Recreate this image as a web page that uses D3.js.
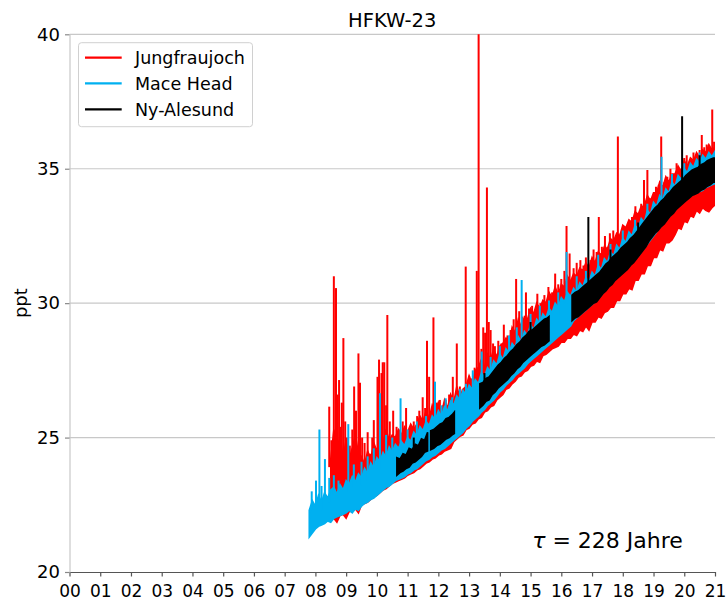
<!DOCTYPE html>
<html><head><meta charset="utf-8">
<script src="https://cdn.jsdelivr.net/npm/d3@7"></script>
<style>
html,body{margin:0;padding:0;background:#fff;}
text{font-family:"DejaVu Sans",sans-serif;fill:#000;}
</style></head>
<body><div id="chart"></div>
<script>
// ---------------- DATA ----------------
const title = "HFKW-23";
const yLabel = "ppt";
const noteSymbol = "τ";
const noteText = " = 228 Jahre";
const seriesNames = ["Jungfraujoch", "Mace Head", "Ny-Alesund"];
const seriesColors = ["#ff0000", "#00b0f0", "#000000"];
const xTickValues = [0,1,2,3,4,5,6,7,8,9,10,11,12,13,14,15,16,17,18,19,20,21];
const xTickLabels = ["00","01","02","03","04","05","06","07","08","09","10","11","12","13","14","15","16","17","18","19","20","21"];
const yTickValues = [20,25,30,35,40];

// Jungfraujoch (years since 2000; low / high envelope of the dense record) + pollution spikes
const jfjT = [8.5,8.6,8.7,8.8,8.9,9.0,9.1,9.2,9.3,9.4,9.5,9.6,9.7,9.8,9.9,10.0,10.1,10.2,10.3,10.4,10.5,10.6,10.7,10.8,10.9,11.0,11.1,11.2,11.3,11.4,11.5,11.6,11.7,11.8,11.9,12.0,12.1,12.2,12.3,12.4,12.5,12.6,12.7,12.8,12.9,13.0,13.1,13.2,13.3,13.4,13.5,13.6,13.7,13.8,13.9,14.0,14.1,14.2,14.3,14.4,14.5,14.6,14.7,14.8,14.9,15.0,15.1,15.2,15.3,15.4,15.5,15.6,15.7,15.8,15.9,16.0,16.1,16.2,16.3,16.4,16.5,16.6,16.7,16.8,16.9,17.0,17.1,17.2,17.3,17.4,17.5,17.6,17.7,17.8,17.9,18.0,18.1,18.2,18.3,18.4,18.5,18.6,18.7,18.8,18.9,19.0,19.1,19.2,19.3,19.4,19.5,19.6,19.7,19.8,19.9,20.0,20.1,20.2,20.3,20.4,20.5,20.6,20.7,20.8,20.9,21.0];
const jfjLo = [21.95,22.0,21.85,22.1,22.15,22.0,22.25,22.25,22.35,22.2,22.5,22.55,22.6,22.7,22.8,22.85,22.95,23.05,23.1,23.2,23.3,23.35,23.4,23.45,23.5,23.6,23.65,23.7,23.8,23.85,23.95,24.05,24.1,24.2,24.25,24.35,24.4,24.5,24.55,24.6,24.85,24.95,25.05,25.1,25.3,25.35,25.5,25.55,25.7,25.75,25.95,26.0,26.15,26.2,26.4,26.5,26.6,26.8,26.85,27.0,27.1,27.25,27.3,27.45,27.5,27.65,27.7,27.85,27.8,28.05,28.1,28.2,28.3,28.35,28.4,28.55,28.55,28.7,28.7,28.85,28.8,29.0,28.95,29.15,29.0,29.3,29.3,29.5,29.45,29.65,29.7,29.85,29.85,30.1,30.1,30.35,30.35,30.55,30.5,30.85,30.85,31.1,31.1,31.4,31.4,31.7,31.7,32.0,31.95,32.25,32.25,32.35,32.55,32.8,32.75,33.05,33.0,33.25,33.2,33.45,33.35,33.55,33.45,33.4,33.55,33.65];
const jfjHi = [24.2,25.3,24.6,25.0,24.3,24.9,24.2,24.6,25.1,24.4,24.3,24.0,24.5,24.2,24.8,24.5,25.0,24.8,25.3,24.9,25.1,25.0,25.3,25.1,25.4,25.2,25.5,25.3,25.5,25.8,25.6,26.0,25.7,26.2,25.9,26.3,25.9,26.4,26.1,26.6,26.3,26.9,26.5,26.8,26.9,27.3,27.0,27.5,27.6,27.9,27.6,28.1,27.9,28.3,28.0,28.4,28.5,28.7,28.5,29.1,28.9,29.4,29.1,29.5,29.4,29.8,29.6,30.0,29.8,30.1,30.0,30.4,30.2,30.6,30.3,30.7,30.6,31.0,30.8,31.1,31.0,31.3,31.2,31.5,31.3,31.7,31.5,31.9,31.8,32.1,32.0,32.4,32.3,32.6,32.5,32.9,32.8,33.1,33.0,33.4,33.3,33.6,33.6,34.0,33.8,34.1,34.1,34.5,34.3,34.7,34.5,34.8,34.8,35.1,34.9,35.3,35.1,35.4,35.3,35.6,35.4,35.7,35.6,35.9,35.7,35.8];
const jfjSpikeT = [8.45,8.52,8.6,8.67,8.72,8.77,8.82,8.86,8.91,8.97,9.02,9.12,9.2,9.26,9.32,9.4,9.45,9.52,9.6,9.7,9.78,9.85,9.9,10.02,10.07,10.15,10.19,10.24,10.3,10.34,10.42,10.53,10.64,10.72,10.84,10.95,11.1,11.2,11.31,11.38,11.49,11.57,11.63,11.7,11.84,11.95,12.05,12.15,12.24,12.35,12.47,12.6,12.7,12.79,12.89,13.0,13.08,13.18,13.25,13.31,13.4,13.46,13.52,13.58,13.64,13.7,13.78,13.84,13.95,14.05,14.13,14.25,14.35,14.45,14.53,14.63,14.72,14.85,14.95,15.05,15.22,15.32,15.45,15.58,15.7,15.8,15.9,16.0,16.1,16.17,16.27,16.4,16.5,16.62,16.72,16.8,16.95,17.05,17.15,17.22,17.32,17.42,17.5,17.58,17.69,17.77,17.84,17.93,18.01,18.1,18.2,18.3,18.41,18.5,18.6,18.69,18.8,18.9,19.0,19.08,19.17,19.25,19.35,19.45,19.55,19.65,19.75,19.85,20.0,20.08,20.2,20.3,20.4,20.5,20.57,20.65,20.73,20.82,20.91,20.97];
const jfjSpikeV = [26.15,24.9,31.0,30.56,26.6,27.14,25.4,26.3,28.7,25.6,25.0,24.7,25.3,26.9,26.0,28.13,27.04,25.0,24.8,25.2,24.4,25.0,25.65,27.26,27.9,27.4,27.8,27.8,26.2,29.56,25.6,26.0,25.4,25.3,25.6,26.1,25.4,25.6,25.8,26.0,26.5,26.1,28.6,27.26,29.47,26.3,26.4,26.2,26.4,26.6,27.26,28.5,26.9,26.8,31.36,27.3,27.2,27.6,31.2,40.0,28.3,29.1,28.9,34.3,29.3,29.0,28.5,28.4,28.6,28.5,29.2,28.8,29.0,29.4,30.9,29.7,29.5,30.4,29.8,29.9,30.35,30.0,30.3,30.6,30.4,31.1,30.7,30.9,31.2,32.87,31.85,31.3,31.5,31.6,31.4,31.7,31.6,32.0,31.9,33.2,32.1,32.5,32.1,32.6,32.7,32.4,36.2,32.6,32.9,32.7,33.0,33.2,33.6,33.3,33.7,34.58,34.95,33.9,34.0,34.33,34.4,36.2,34.5,34.7,35.0,34.8,35.2,35.0,35.4,35.5,35.3,35.6,35.5,35.7,36.25,35.8,35.9,35.7,37.2,36.0];

// Mace Head
const mhdT = [7.8,7.9,8.0,8.1,8.2,8.3,8.4,8.5,8.6,8.7,8.8,8.9,9.0,9.1,9.2,9.3,9.4,9.5,9.6,9.7,9.8,9.9,10.0,10.1,10.2,10.3,10.4,10.5,10.6,10.7,10.8,10.9,11.0,11.1,11.2,11.3,11.4,11.5,11.6,11.7,11.8,11.9,12.0,12.1,12.2,12.3,12.4,12.5,12.6,12.7,12.8,12.9,13.0,13.1,13.2,13.3,13.4,13.5,13.6,13.7,13.8,13.9,14.0,14.1,14.2,14.3,14.4,14.5,14.6,14.7,14.8,14.9,15.0,15.1,15.2,15.3,15.4,15.5,15.6,15.7,15.8,15.9,16.0,16.1,16.2,16.3,16.4,16.5,16.6,16.7,16.8,16.9,17.0,17.1,17.2,17.3,17.4,17.5,17.6,17.7,17.8,17.9,18.0,18.1,18.2,18.3,18.4,18.5,18.6,18.7,18.8,18.9,19.0,19.1,19.2,19.3,19.4,19.5,19.6,19.7,19.8,19.9,20.0,20.1,20.2,20.3,20.4,20.5,20.6,20.7,20.8,20.9,21.0];
const mhdLo = [21.3,21.45,21.6,21.7,21.75,21.8,21.9,21.85,22.0,22.05,22.1,22.15,22.2,22.3,22.2,22.35,22.3,22.45,22.55,22.6,22.7,22.75,22.85,22.95,23.05,23.15,23.2,23.3,23.4,23.45,23.5,23.55,23.65,23.7,23.8,23.85,23.95,24.05,24.15,24.2,24.3,24.35,24.45,24.55,24.6,24.7,24.8,24.9,25.0,25.1,25.2,25.35,25.45,25.6,25.7,25.8,25.95,26.05,26.2,26.3,26.4,26.55,26.7,26.8,26.95,27.05,27.15,27.3,27.4,27.5,27.6,27.75,27.85,27.95,28.05,28.15,28.25,28.35,28.45,28.55,28.65,28.75,28.85,28.95,29.05,29.15,29.35,29.45,29.55,29.65,29.75,29.85,29.95,30.05,30.2,30.3,30.45,30.55,30.7,30.8,30.95,31.05,31.15,31.25,31.4,31.5,31.65,31.75,31.9,32.05,32.2,32.35,32.5,32.65,32.8,32.95,33.1,33.2,33.35,33.45,33.6,33.7,33.8,33.9,34.0,34.05,34.1,34.15,34.2,34.3,34.35,34.4,34.45];
const mhdHi = [22.3,22.65,22.45,22.85,22.6,22.95,22.75,23.05,23.15,22.9,23.25,23.05,23.4,23.25,23.55,23.35,23.65,23.5,23.85,23.65,24.05,23.85,24.25,24.1,24.45,24.25,24.65,24.45,24.75,24.6,24.85,24.7,25.0,24.85,25.2,25.05,25.4,25.25,25.6,25.45,25.8,25.65,26.0,25.8,26.15,26.0,26.35,26.2,26.55,26.4,26.75,26.6,26.95,26.8,27.15,27.0,27.4,27.25,27.6,27.45,27.85,27.7,28.1,27.9,28.3,28.15,28.5,28.35,28.75,28.55,28.95,28.8,29.2,29.0,29.4,29.25,29.6,29.45,29.8,29.65,30.0,29.85,30.2,30.05,30.4,30.25,30.55,30.4,30.75,30.6,30.95,30.8,31.15,31.0,31.4,31.25,31.65,31.5,31.9,31.75,32.15,32.0,32.4,32.25,32.65,32.5,32.9,32.75,33.15,33.0,33.45,33.3,33.75,33.6,34.0,33.85,34.25,34.1,34.5,34.35,34.75,34.6,35.0,34.85,35.2,35.05,35.35,35.2,35.5,35.35,35.6,35.45,35.65];
const mhdSpikeT = [7.88,8.02,8.13,8.2,8.31,8.45,8.6,8.75,9.07,9.25,9.5,9.7,9.9,10.1,10.3,10.5,10.77,11.0,11.3,11.6,11.89,12.1,12.24,12.45,12.7,12.9,13.12,13.41,13.7,14.0,14.3,14.55,14.71,15.0,15.3,15.6,15.9,16.17,16.5,16.8,17.2,17.6,18.0,18.4,18.8,19.26,19.6,20.0,20.5];
const mhdSpikeV = [23.0,23.4,25.3,23.2,24.2,23.5,23.6,23.4,25.5,24.0,24.1,24.3,24.6,26.65,25.1,25.0,26.46,25.3,25.6,25.8,27.08,26.2,26.46,26.5,26.8,27.0,27.5,28.2,28.0,28.4,28.8,29.1,30.86,29.6,29.9,30.1,30.4,31.9,31.0,31.2,31.8,32.2,32.7,33.1,33.7,35.45,34.8,35.2,35.6];

// Ny-Alesund (null = gap in the record)
const zepT  = [10.65,10.75,10.85,10.95,11.05,11.15,11.25,11.35,11.45,11.55,11.65,null,11.75,11.85,11.95,12.05,12.15,12.25,12.35,12.45,12.52,null,13.35,13.45,13.55,13.65,13.75,13.85,13.95,14.05,14.15,14.25,14.35,14.45,14.55,14.65,14.75,14.85,14.95,15.05,15.15,15.25,15.35,15.45,15.55,15.6,null,16.35,16.45,16.55,16.65,16.75,16.85,16.95,17.05,17.15,17.25,17.35,17.45,17.55,17.65,17.75,17.85,17.95,18.05,18.15,18.25,18.35,18.45,18.55,18.65,18.75,18.85,18.95,19.05,19.15,19.25,19.35,19.45,19.55,19.65,19.75,19.85,19.95,20.05,20.15,20.25,20.35,20.45,20.55,20.65,20.75,20.85,20.95,21.0];
const zepLo = [23.6,23.7,23.75,23.85,23.9,24.05,24.1,24.2,24.3,24.45,24.5,null,24.55,24.6,24.7,24.75,24.85,24.95,25.0,25.1,25.15,null,26.1,26.2,26.35,26.4,26.6,26.7,26.85,26.95,27.05,27.15,27.3,27.4,27.55,27.65,27.8,27.9,28.0,28.1,28.2,28.3,28.4,28.45,28.55,28.6,null,29.35,29.45,29.5,29.6,29.7,29.8,29.9,30.0,30.05,30.2,30.35,30.45,30.6,30.7,30.85,30.95,31.05,31.15,31.25,31.4,31.5,31.65,31.8,31.95,32.1,32.3,32.45,32.6,32.7,32.85,32.95,33.1,33.25,33.35,33.5,33.6,33.7,33.8,33.9,34.0,34.05,34.1,34.2,34.25,34.35,34.4,34.5,34.5];
const zepHi = [24.25,24.2,24.4,24.35,24.6,24.55,24.75,24.7,24.95,24.9,25.2,null,25.25,25.3,25.4,25.5,25.55,25.7,25.75,25.85,25.95,null,27.0,27.05,27.2,27.25,27.4,27.55,27.7,27.8,27.95,28.05,28.2,28.3,28.45,28.55,28.7,28.8,28.95,29.0,29.1,29.2,29.3,29.4,29.45,29.5,null,30.3,30.4,30.45,30.55,30.65,30.75,30.85,30.95,31.05,31.15,31.3,31.45,31.55,31.7,31.8,31.9,32.05,32.15,32.25,32.4,32.5,32.65,32.8,32.95,33.1,33.25,33.4,33.55,33.65,33.8,33.9,34.05,34.15,34.3,34.4,34.5,34.6,34.75,34.85,34.95,35.0,35.05,35.15,35.2,35.3,35.35,35.4,35.4];
const zepSpikeT = [11.2,13.5,15.0,16.88,17.6,18.5,19.93,20.5];
const zepSpikeV = [25.0,27.4,29.3,33.2,32.0,33.0,36.95,35.5];

// ---------------- CHART ----------------
const W = 726, H = 604;
const svg = d3.select("#chart").append("svg").attr("width", W).attr("height", H);
const plot = {l: 69.5, r: 715, t: 34.3, b: 572};
const x = d3.scaleLinear().domain([0, 21]).range([plot.l, plot.r]);
const y = d3.scaleLinear().domain([20, 40]).range([plot.b, plot.t]);

svg.append("defs").append("clipPath").attr("id","clip")
  .append("rect").attr("x", plot.l).attr("y", plot.t - 1).attr("width", plot.r - plot.l).attr("height", plot.b - plot.t + 1);

// gridlines
svg.append("g").selectAll("line").data(yTickValues.filter(v => v > 20)).join("line")
  .attr("x1", plot.l).attr("x2", plot.r).attr("y1", d => y(d)).attr("y2", d => y(d))
  .attr("stroke", "#c8c8c8").attr("stroke-width", 1.2);

const gData = svg.append("g").attr("clip-path", "url(#clip)");

function drawSeries(T, LO, HI, ST, SV, color) {
  const pts = T.map((t, i) => ({t, lo: LO[i], hi: HI[i]}));
  const area = d3.area().defined(d => d.t !== null)
    .x(d => x(d.t)).y0(d => y(d.lo)).y1(d => y(d.hi));
  gData.append("path").datum(pts).attr("d", area)
    .attr("fill", color).attr("stroke", color).attr("stroke-width", 1.6).attr("stroke-linejoin","miter");
  const valid = pts.filter(d => d.t !== null);
  const hiAt = d3.scaleLinear().domain(valid.map(d => d.t)).range(valid.map(d => d.hi)).clamp(true);
  gData.append("g").selectAll("line").data(ST.map((t, i) => ({t, v: SV[i]}))).join("line")
    .attr("x1", d => x(d.t)).attr("x2", d => x(d.t))
    .attr("y1", d => y(d.v)).attr("y2", d => y(hiAt(d.t) - 0.3))
    .attr("stroke", color).attr("stroke-width", 2);
}
drawSeries(jfjT, jfjLo, jfjHi, jfjSpikeT, jfjSpikeV, seriesColors[0]);
drawSeries(mhdT, mhdLo, mhdHi, mhdSpikeT, mhdSpikeV, seriesColors[1]);
drawSeries(zepT, zepLo, zepHi, zepSpikeT, zepSpikeV, seriesColors[2]);

// axes
const xAxis = svg.append("g").attr("transform", `translate(0,${plot.b})`)
  .call(d3.axisBottom(x).tickValues(xTickValues).tickFormat((d, i) => xTickLabels[i]).tickSize(4.5).tickSizeOuter(0).tickPadding(8));
xAxis.select(".domain").attr("stroke", "#555").attr("stroke-width", 1.2);
xAxis.selectAll(".tick line").attr("stroke", "#555").attr("stroke-width", 1.2);
xAxis.selectAll("text").attr("font-size", "17px").attr("font-family", "DejaVu Sans").attr("fill", "#000");

const yAxis = svg.append("g").attr("transform", `translate(${plot.l},0)`)
  .call(d3.axisLeft(y).tickValues(yTickValues).tickFormat(d3.format("d")).tickSize(4.5).tickSizeOuter(0).tickPadding(5));
yAxis.select(".domain").attr("stroke", "#c8c8c8").attr("stroke-width", 1.2);
yAxis.selectAll(".tick line").attr("stroke", "#888").attr("stroke-width", 1.2);
yAxis.selectAll("text").attr("font-size", "18px").attr("font-family", "DejaVu Sans").attr("fill", "#000");

// title
svg.append("text").attr("x", (plot.l + plot.r) / 2).attr("y", 26.7).attr("text-anchor", "middle")
  .attr("font-size", "19.5px").text(title);

// y label
svg.append("text").attr("transform", `translate(27,${(plot.t + plot.b) / 2}) rotate(-90)`)
  .attr("text-anchor", "middle").attr("font-size", "18px").text(yLabel);

// note
const nt = svg.append("text").attr("x", 607.5).attr("y", 548).attr("text-anchor", "middle").attr("font-size", "22px");
nt.append("tspan").attr("font-style", "italic").text(noteSymbol);
nt.append("tspan").text(noteText);

// legend
const lg = svg.append("g");
lg.append("rect").attr("x", 78.5).attr("y", 42.7).attr("width", 174).attr("height", 84).attr("rx", 3)
  .attr("fill", "#fff").attr("fill-opacity", 0.85).attr("stroke", "#d0d0d0").attr("stroke-width", 1);
const rows = [57.7, 83.3, 109.3];
seriesNames.forEach((name, i) => {
  lg.append("line").attr("x1", 85).attr("x2", 121.7).attr("y1", rows[i]).attr("y2", rows[i])
    .attr("stroke", seriesColors[i]).attr("stroke-width", 2.2);
  lg.append("text").attr("x", 135).attr("y", rows[i] + 6.3).attr("font-size", "17.5px").text(name);
});
</script></body></html>
